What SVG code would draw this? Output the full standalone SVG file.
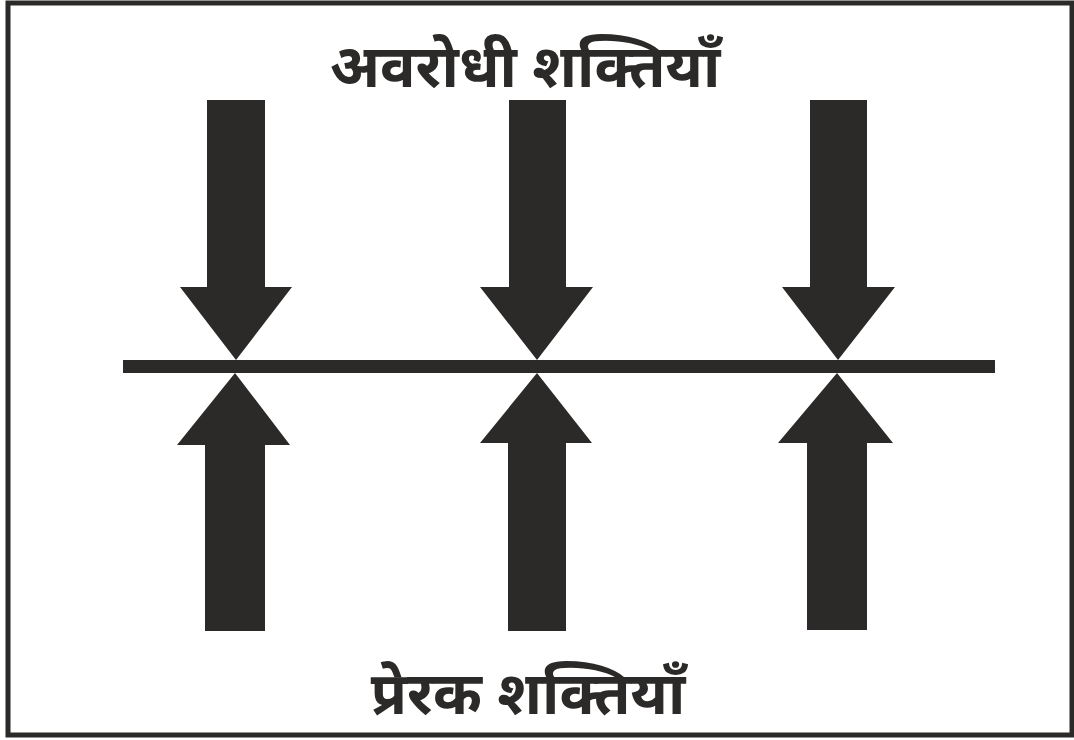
<svg xmlns="http://www.w3.org/2000/svg" width="1074" height="740" viewBox="0 0 1074 740">
<style>
.f{fill:#2b2a28}
.t{font-family:"Noto Sans Devanagari","Noto Sans","Lohit Devanagari","FreeSans",sans-serif;font-weight:bold;font-size:59px;fill:#2b2a28;text-anchor:middle}
</style>
<rect x="0" y="0" width="1074" height="740" fill="#fff"/>
<rect id="frame" x="8" y="3" width="1064" height="732" fill="none" stroke="#2b2a28" stroke-width="5"/>
<text id="top-label" class="t" x="525" y="87">अवरोधी शक्तियाँ</text>
<text id="bottom-label" class="t" x="528" y="714">प्रेरक शक्तियाँ</text>
<g id="connectors">
<rect class="f" x="123" y="360" width="872" height="13"/>
</g>
<g id="down1"><path class="f" d="M207 100H265V287H292L236 360L180 287H207Z"/></g>
<g id="down2"><path class="f" d="M509 100H566V287H593L537 360L480 287H509Z"/></g>
<g id="down3"><path class="f" d="M810 100H867V287H895L838 360L782 287H810Z"/></g>
<g id="up1"><path class="f" d="M205 631H265V445H290L235 373L177 445H205Z"/></g>
<g id="up2"><path class="f" d="M508 631H566V443H592L537 373L480 443H508Z"/></g>
<g id="up3"><path class="f" d="M807 630H867V443H893L837 373L778 443H807Z"/></g>
</svg>
